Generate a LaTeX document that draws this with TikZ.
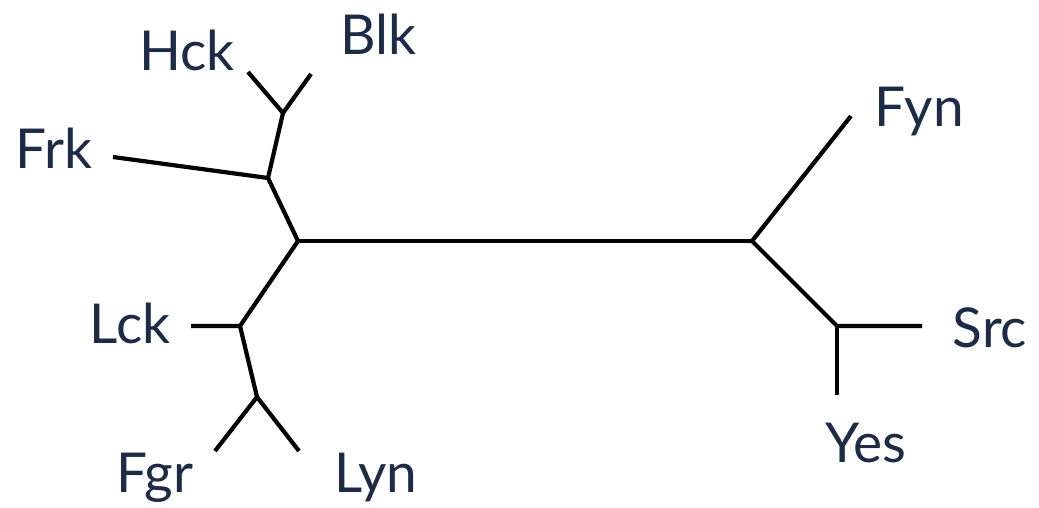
\documentclass[tikz,border=0pt]{standalone}
\usepackage{fontspec}
\setmainfont{Lato}
\definecolor{labelnavy}{RGB}{27,43,72}
\tikzset{
  branch/.style={line width=4.2pt, black, line cap=butt, line join=miter},
  taxon/.style={anchor=base, inner sep=0pt, text=labelnavy, font=\fontsize{55}{55}\selectfont}
}
\begin{document}
\begin{tikzpicture}[x=1pt, y=-1pt]
  \useasboundingbox (0,0) rectangle (1039,508);
  % internal vertices
  \coordinate (A)  at (298,241);
  \coordinate (B)  at (752,241);
  \coordinate (U1) at (268,178);
  \coordinate (U2) at (283,113);
  \coordinate (L1) at (240,326);
  \coordinate (L2) at (257,397);
  \coordinate (R2) at (837,326);
  % leaf tips
  \coordinate (tHck) at (248,72);
  \coordinate (tBlk) at (311,74);
  \coordinate (tFrk) at (113,157);
  \coordinate (tLck) at (191,326);
  \coordinate (tFgr) at (215,451);
  \coordinate (tLyn) at (299,451);
  \coordinate (tFyn) at (851,116);
  \coordinate (tSrc) at (922,326);
  \coordinate (tYes) at (837,395);
  % taxon labels
  \node[taxon] (Hck) at (187,71)  {Hck};
  \node[taxon] (Blk) at (378,55)  {Blk};
  \node[taxon] (Frk) at (54,168)  {Frk};
  \node[taxon] (Lck) at (130,343) {Lck};
  \node[taxon] (Fgr) at (155,492) {Fgr};
  \node[taxon] (Lyn) at (376,492) {Lyn};
  \node[taxon] (Fyn) at (919,127) {Fyn};
  \node[taxon] (Src) at (990,347) {Src};
  \node[taxon] (Yes) at (866,462) {Yes};
  % tree branches
  \draw[branch] (A) -- (B);
  \draw[branch] (tFrk) -- (U1) -- (A) -- (L1) -- (tLck);
  \draw[branch] (U1) -- (U2);
  \draw[branch] (tHck) -- (U2) -- (tBlk);
  \draw[branch] (L1) -- (L2);
  \draw[branch] (tFgr) -- (L2) -- (tLyn);
  \draw[branch] (tFyn) -- (B) -- (R2) -- (tSrc);
  \draw[branch] (R2) -- (tYes);
\end{tikzpicture}
\end{document}
